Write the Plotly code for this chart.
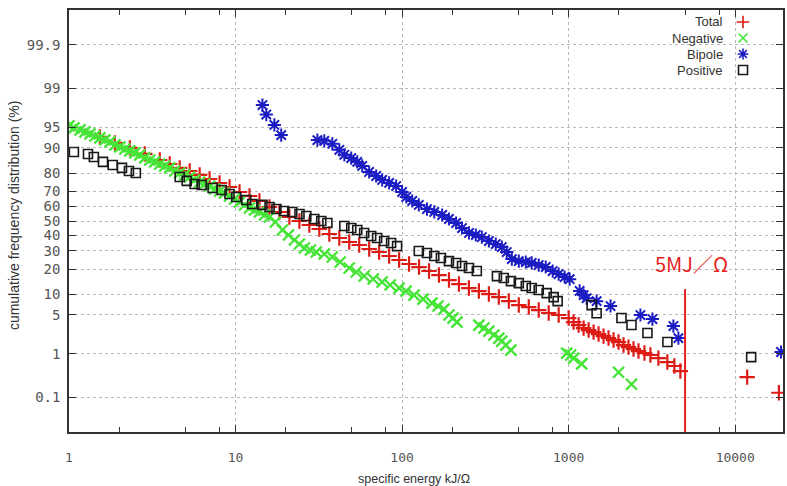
import plotly.graph_objects as go
from statistics import NormalDist

# ---------------- data (x: specific energy kJ/Ω, y: cumulative %) ----------------
total_x = [1.533, 1.885, 2.319, 2.852, 3.507, 4.025, 4.621, 5.304, 6.087, 6.988, 8.021, 9.207,
           10.57, 12.13, 13.92, 15.98, 18.34, 21.05, 24.17, 27.74, 31.84, 36.55, 41.96, 48.15,
           55.27, 63.45, 72.82, 83.59, 95.94, 110.1, 126.4, 145.1, 166.5, 191.2, 219.4, 251.8,
           289.1, 331.9, 380.9, 437.2, 501.9, 576.1, 661.3, 759.1, 871.3, 1000, 1071, 1148,
           1230, 1318, 1412, 1512, 1620, 1736, 1860, 1993, 2135, 2287, 2451, 2626, 2852, 3097,
           3459, 3915, 4312, 4686, 11800, 18300]
total_y = [92.97, 91.44, 89.99, 88.01, 85.77, 84.13, 82.38, 80.98, 79.02, 76.94, 74.75, 72.46,
           69.46, 66.95, 63.72, 59.70, 56.27, 52.80, 50.0, 47.20, 44.42, 40.98, 38.28, 35.63,
           33.69, 31.16, 29.33, 26.96, 24.69, 22.53, 20.98, 19.02, 17.17, 15.03, 13.45, 11.99,
           10.97, 10.01, 9.12, 8.02, 7.03, 6.57, 5.92, 5.33, 4.96, 4.44, 3.82, 3.40,
           3.02, 2.79, 2.57, 2.37, 2.18, 2.01, 1.84, 1.69, 1.48, 1.35, 1.24, 1.13, 1.03, 0.94,
           0.81, 0.67, 0.55, 0.425, 0.31, 0.13]

neg_x = [1.000, 1.071, 1.164, 1.247, 1.336, 1.431, 1.533, 1.643, 1.760, 1.885, 2.020, 2.164,
         2.319, 2.484, 2.662, 2.852, 3.055, 3.273, 3.507, 3.757, 4.025, 4.313, 4.621, 4.950,
         5.304, 5.683, 6.087, 6.522, 6.988, 7.486, 8.021, 8.594, 9.207, 9.863, 10.57, 11.32,
         12.13, 12.99, 13.92, 14.92, 15.98, 17.36, 19.11, 20.77, 22.56, 24.17, 25.89, 28.13,
         30.55, 34.12, 38.09, 42.54, 48.15, 53.04, 59.23, 67.03, 75.90, 84.76, 95.94, 105.7,
         118.0, 133.6, 151.2, 164.3, 178.4, 191.2, 202.0, 213.5, 289, 310, 332, 356, 381,
         397, 420, 450, 973, 1028, 1072, 1197, 1993, 2384]
neg_y = [95.22, 94.86, 94.48, 94.08, 93.65, 93.20, 92.73, 92.24, 91.71, 90.88, 90.29, 89.67,
         89.03, 88.36, 87.66, 86.55, 85.77, 84.97, 84.13, 83.27, 82.38, 80.98, 80.01, 79.02,
         77.99, 76.40, 75.31, 74.19, 73.04, 71.27, 70.07, 68.84, 66.95, 65.02, 63.06, 61.05,
         59.02, 57.65, 56.27, 54.19, 52.80, 49.30, 43.73, 40.30, 36.94, 34.33, 31.79, 30.55,
         29.33, 28.13, 26.38, 23.60, 20.48, 18.55, 16.73, 15.45, 14.23, 13.08, 11.99, 10.97,
         9.71, 8.56, 7.51, 6.80, 6.13, 4.96, 4.44, 3.82, 3.40, 3.03, 2.68, 2.28, 2.0,
         1.76, 1.48, 1.18, 1.03, 0.94, 0.81, 0.61, 0.40, 0.21]

bip_x = [14.5, 15.3, 17.1, 18.8, 31.0, 34.1, 38.1, 42.0, 45.0, 49.5, 53.8, 57.6, 63.4, 69.9,
         75.9, 83.6, 92.1, 100, 106, 115, 126, 141, 156, 174, 191, 211, 229, 252, 277, 301,
         332, 365, 397, 425, 456, 502, 553, 600, 661, 728, 802, 871, 946, 1014, 1164, 1230,
         1282, 1472, 1784, 2698, 3184, 4254, 4560, 18850]
bip_y = [97.9, 96.9, 95.4, 93.4, 92.2, 92.0, 91.2, 89.4, 87.7, 86.5, 85.0, 83.3, 80.5, 78.5,
         76.4, 74.8, 73.0, 69.5, 66.3, 63.7, 61.1, 58.3, 56.3, 54.2, 51.4, 48.6, 45.1, 41.7,
         40.3, 38.9, 36.3, 34.3, 32.4, 29.3, 25.2, 24.1, 23.6, 23.1, 22.0, 21.0, 19.0, 17.6,
         16.3, 15.4, 11.0, 9.7, 8.8, 8.0, 6.8, 4.96, 4.28, 3.27, 2.0, 1.08]

pos_x = [1.07, 1.30, 1.41, 1.60, 1.83, 2.08, 2.29, 2.52, 4.62, 5.09, 5.68, 6.26, 7.28, 8.25,
         9.2, 10.1, 11.6, 12.6, 14.5, 16.0, 17.6, 19.6, 21.9, 24.2, 26.6, 29.7, 32.7, 35.6,
         45.0, 49.5, 53.8, 59.2, 65.2, 70.8, 78.0, 85.9, 93.3, 126, 141, 156, 171, 191, 211,
         229, 252, 281, 371, 408, 450, 502, 553, 600, 661, 738, 813, 859, 1374, 1472, 2075,
         2384, 2972, 3917, 12470]
pos_y = [88.7, 88.0, 86.9, 85.0, 83.7, 82.4, 81.0, 80.0, 78.0, 75.9, 74.2, 73.6, 71.9, 70.7,
         68.2, 66.3, 64.4, 61.7, 61.1, 59.7, 58.3, 57.0, 56.3, 54.9, 53.5, 51.4, 50.0, 48.6,
         46.5, 45.1, 43.7, 41.7, 39.6, 38.3, 36.3, 35.0, 33.0, 29.9, 28.7, 27.0, 25.8, 24.1,
         23.1, 21.5, 20.5, 19.0, 16.7, 15.9, 14.6, 13.8, 12.7, 12.0, 11.3, 10.3, 9.1, 8.0,
         7.0, 5.3, 4.44, 3.40, 2.47, 1.69, 0.85]

y_ticks = [0.1, 1, 5, 10, 20, 30, 40, 50, 60, 70, 80, 90, 95, 99, 99.9]
y_tick_text = ["0.1", "1", "5", "10", "20", "30", "40", "50", "60", "70", "80", "90", "95", "99", "99.9"]
x_ticks = [1, 10, 100, 1000, 10000]
x_tick_text = ["1", "10", "100", "1000", "10000"]
x_minor = [m * d for d in [1, 10, 100, 1000, 10000] for m in (2, 5, 8)]

limit_x = 5000       # 5 MJ/Ω
limit_top_pct = 11.6
series_names = ["Total", "Negative", "Bipole", "Positive"]

# ---------------- probability (normal) scale ----------------
nd = NormalDist()
def zq(p):
    return nd.inv_cdf(p / 100.0)

Z_MAX = 3.70

RED = "rgb(222,28,22)"
GREEN = "rgb(70,228,55)"
BLUE = "rgb(28,28,195)"
BLACK = "rgb(25,25,25)"

fig = go.Figure()

styles = [
    (total_x, total_y, RED, "cross-thin-open", 11, 2.2),
    (neg_x, neg_y, GREEN, "x-thin-open", 11, 2.4),
    (bip_x, bip_y, BLUE, "asterisk-open", 11, 2.0),
    (pos_x, pos_y, BLACK, "square-open", 9, 1.6),
]
for (xs, ys, col, sym, sz, lw), name in zip(styles, series_names):
    fig.add_trace(go.Scatter(
        x=xs, y=[zq(v) for v in ys], mode="markers", name=name,
        marker=dict(symbol=sym, size=sz, color=col, line=dict(color=col, width=lw)),
        showlegend=False))

# legend keys (overlay axis)
leg_y = [0.9716, 0.9336, 0.8957, 0.8578]
for (xs, ys, col, sym, sz, lw), name, ly in zip(styles, series_names, leg_y):
    fig.add_trace(go.Scatter(
        x=[0.944], y=[ly], xaxis="x2", yaxis="y2", mode="markers",
        marker=dict(symbol=sym, size=9, color=col, line=dict(color=col, width=1.6)),
        showlegend=False, hoverinfo="skip"))
    fig.add_annotation(text=name, xref="paper", yref="paper", x=0.919, y=ly,
                       xanchor="right", yanchor="middle", showarrow=False,
                       font=dict(family="Liberation Sans, Arial", size=13, color="#333"))

# 5 MJ/Ω limit line
fig.add_shape(type="line", x0=limit_x, x1=limit_x, xref="x", yref="y",
              y0=-Z_MAX, y1=zq(limit_top_pct), line=dict(color="rgb(230,30,30)", width=2))
fig.add_annotation(text="5MJ／Ω", x=3.737, y=zq(23.0), xref="x", yref="y",
                   showarrow=False, xanchor="center", yanchor="middle",
                   font=dict(family="Noto Sans CJK JP", size=20, color="rgb(230,30,30)"))

# axis titles
fig.add_annotation(text="specific energy kJ/Ω", xref="paper", yref="paper",
                   x=0.483, y=-0.111, xanchor="center", yanchor="middle", showarrow=False,
                   font=dict(family="Liberation Sans, Arial", size=12.5, color="#333"))
fig.add_annotation(text="cumulative frequency distribution (%)", xref="paper", yref="paper",
                   x=-0.077, y=0.514, xanchor="center", yanchor="middle", showarrow=False,
                   textangle=-90,
                   font=dict(family="Liberation Sans, Arial", size=14, color="#333"))

ytickfont = dict(family="DejaVu Sans Mono", size=14, color="#555")
xtickfont = dict(family="DejaVu Sans Mono", size=13, color="#555")
grid = dict(showgrid=True, gridcolor="#b8b8b8", griddash="dot", gridwidth=1)

fig.update_layout(
    width=787, height=486,
    margin=dict(l=69, r=2, t=10, b=54),
    paper_bgcolor="white", plot_bgcolor="white",
    xaxis=dict(type="log", range=[0, 4.287], tickmode="array", tickvals=x_ticks,
               ticktext=x_tick_text, ticks="inside", ticklen=7, tickcolor="#333",
               showline=True, linecolor="#333", linewidth=1.5, mirror="allticks",
               tickfont=xtickfont, ticklabelstandoff=13, zeroline=False,
               minor=dict(tickmode="array", tickvals=x_minor, ticks="inside", ticklen=5,
                          tickcolor="#333", showgrid=False),
               **grid),
    yaxis=dict(range=[-Z_MAX, Z_MAX], tickmode="array", tickvals=[zq(v) for v in y_ticks],
               ticktext=y_tick_text, ticks="inside", ticklen=7, tickcolor="#333",
               showline=True, linecolor="#333", linewidth=1.5, mirror="allticks",
               tickfont=ytickfont, ticklabelstandoff=4, zeroline=False, **grid),
    xaxis2=dict(range=[0, 1], overlaying="x", visible=False, fixedrange=True),
    yaxis2=dict(range=[0, 1], overlaying="y", visible=False, fixedrange=True),
)

fig.write_html("out.html")
